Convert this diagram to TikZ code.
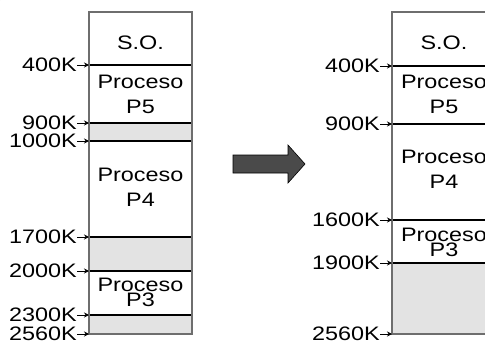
\documentclass[tikz,border=0pt]{standalone}
\usepackage{fontspec}
\setmainfont[FakeStretch=1.2]{Liberation Sans}
\usetikzlibrary{arrows.meta}
\definecolor{memgray}{HTML}{E3E3E3}
\definecolor{edgegray}{HTML}{6E6E6E}
\definecolor{bigarrow}{HTML}{4A4A4A}
\begin{document}
\begin{tikzpicture}[x=1pt,y=-1pt,
  every node/.style={font=\fontsize{19.5}{25}\selectfont, inner sep=0pt},
  txt/.style={align=center},
  tight/.style={align=center, font=\fontsize{19.5}{13}\selectfont},
  addr/.style={anchor=east},
  ptr/.style={-{Stealth[length=5pt,width=5pt]}, line width=0.9pt},
  divider/.style={line width=1.3pt, black},
  boxedge/.style={line width=1.2pt, edgegray},
  free/.style={fill=memgray}]
\useasboundingbox (0,0) rectangle (485,343);
\clip (0,0) rectangle (485,343);
% ---------- left memory map ----------
\fill[free] (89,123) rectangle (192,141);
\fill[free] (89,237) rectangle (192,271);
\fill[free] (89,315) rectangle (192,334);
\draw[divider] (89,65) -- (192,65);
\draw[divider] (89,123) -- (192,123);
\draw[divider] (89,141) -- (192,141);
\draw[divider] (89,237) -- (192,237);
\draw[divider] (89,271) -- (192,271);
\draw[divider] (89,315) -- (192,315);
\draw[boxedge] (89,12) rectangle (192,334);
\node[txt] (lso) at (140.5,43) {S.O.};
\node[txt] (lp5) at (140.5,94.5) {Proceso\\P5};
\node[txt] (lp4) at (140.5,187) {Proceso\\P4};
\node[tight] (lp3) at (140.5,292) {Proceso\\P3};
\foreach \y/\t/\n in {65/400K/a,123/900K/b,141/1000K/c,237/1700K/d,271/2000K/e,315/2300K/f,334/2560K/g}{
  \coordinate (le\n) at (89,\y);
  \node[addr] (ll\n) at (77,\y) {\t};
  \draw[ptr] (ll\n.east) -- (le\n);
}
% ---------- big arrow ----------
\node[draw=black, fill=bigarrow, line width=0.6pt, inner sep=0pt, minimum size=0pt,
  shape=rectangle] (dummy) at (0,0) {};
\path[draw=black, fill=bigarrow, line width=0.6pt]
  (233,155) -- (288,155) -- (288,145) -- (305,164) -- (288,183) -- (288,173) -- (233,173) -- cycle;
% ---------- right memory map ----------
\fill[free] (392,263) rectangle (496,334);
\draw[divider] (392,66) -- (496,66);
\draw[divider] (392,124) -- (496,124);
\draw[divider] (392,220) -- (496,220);
\draw[divider] (392,263) -- (496,263);
\draw[boxedge] (392,12) rectangle (496,334);
\node[txt] (rso) at (444,43) {S.O.};
\node[txt] (rp5) at (444,94) {Proceso\\P5};
\node[txt] (rp4) at (444,169) {Proceso\\P4};
\node[tight] (rp3) at (444,242) {Proceso\\P3};
\foreach \y/\t/\n in {66/400K/a,124/900K/b,220/1600K/c,263/1900K/d,334/2560K/e}{
  \coordinate (re\n) at (392,\y);
  \node[addr] (rl\n) at (380,\y) {\t};
  \draw[ptr] (rl\n.east) -- (re\n);
}
\end{tikzpicture}
\end{document}
